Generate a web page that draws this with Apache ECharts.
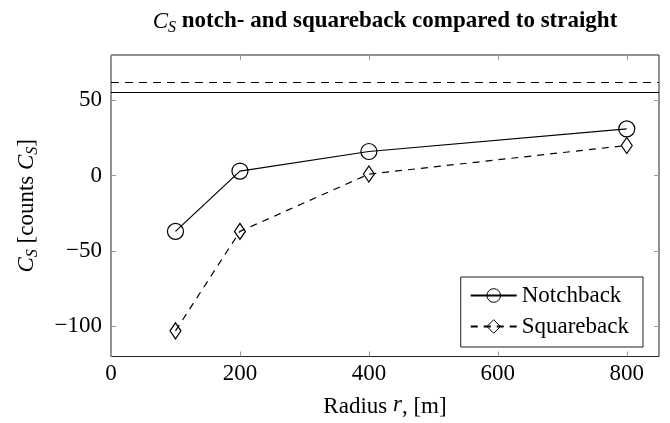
<!DOCTYPE html>
<html>
<head>
<meta charset="utf-8">
<script src="https://cdn.jsdelivr.net/npm/echarts@6/dist/echarts.min.js"></script>
<style>html,body{margin:0;padding:0;background:#fff}#c{width:670px;height:423px}</style>
</head>
<body>
<div id="c"></div>
<script>
const radius = [100, 200, 400, 800];
const notchback = [-37, 3, 16, 31];
const squareback = [-103, -37, 1, 20];
const straightNotch = 55;
const straightSquare = 62;
const xTicks = [0, 200, 400, 600, 800];
const yTicks = [-100, -50, 0, 50];

const FONT = 'Liberation Serif';
const FS = 23;
const rich = {
  i: { fontStyle: 'italic', fontFamily: FONT, fontSize: FS, lineHeight: 26, verticalAlign: 'top' },
  s: { fontStyle: 'italic', fontFamily: FONT, fontSize: 16, lineHeight: 17, padding: [11, 0, 0, 0], verticalAlign: 'bottom' },
  n: { fontFamily: FONT, fontSize: FS, lineHeight: 26, verticalAlign: 'top' }
};
const titleRich = {
  i: { fontStyle: 'italic', fontWeight: 'normal', fontFamily: FONT, fontSize: FS, lineHeight: 26, verticalAlign: 'top' },
  s: { fontStyle: 'italic', fontWeight: 'normal', fontFamily: FONT, fontSize: 16, lineHeight: 17, padding: [11, 0, 0, 0], verticalAlign: 'bottom' },
  b: { fontWeight: 'bold', fontFamily: FONT, fontSize: FS, lineHeight: 26, verticalAlign: 'top' }
};
const minus = v => String(v).replace('-', '\u2212');
const tickCol = '#999';
const hiddenLine = { show: false, onZero: false };

const chart = echarts.init(document.getElementById('c'), null, { renderer: 'canvas' });
chart.setOption({
  animation: false,
  backgroundColor: '#fff',
  title: {
    text: '{i|C}{s|S}{b| notch- and squareback compared to straight}',
    left: 385, top: 10, textAlign: 'center', padding: 0,
    textStyle: { rich: titleRich, fontFamily: FONT, fontWeight: 'bold', fontSize: FS, color: '#000' }
  },
  grid: { left: 111, right: 11, top: 55, bottom: 66, show: true, borderColor: '#222', borderWidth: 1, containLabel: false },
  legend: {
    orient: 'vertical', right: 27, bottom: 76,
    backgroundColor: '#fff', borderColor: '#222', borderWidth: 1,
    padding: [7, 14, 9, 9], itemGap: 8, itemWidth: 46, itemHeight: 17,
    itemStyle: { borderWidth: 1 },
    textStyle: { fontFamily: FONT, fontSize: FS, color: '#000' },
    data: ['Notchback', 'Squareback']
  },
  xAxis: [{
    type: 'value', min: 0, max: 850,
    name: 'Radius {i|r}, [m]', nameLocation: 'middle', nameGap: 37,
    nameTextStyle: { rich: rich, fontFamily: FONT, fontSize: FS, color: '#000' },
    axisLine: hiddenLine,
    axisTick: { inside: true, length: 5, customValues: xTicks, lineStyle: { color: tickCol } },
    axisLabel: { customValues: xTicks, fontFamily: FONT, fontSize: FS, color: '#000', margin: 6, formatter: minus },
    splitLine: { show: false }
  }, {
    type: 'value', min: 0, max: 850, position: 'top',
    axisLine: hiddenLine,
    axisTick: { inside: true, length: 5, customValues: xTicks, lineStyle: { color: tickCol } },
    axisLabel: { show: false }, splitLine: { show: false }
  }],
  yAxis: [{
    type: 'value', min: -120, max: 80,
    name: '{i|C}{s|S}{n| [counts }{i|C}{s|S}{n|]}', nameLocation: 'middle', nameGap: 70, nameRotate: 90,
    nameTextStyle: { rich: rich, fontFamily: FONT, fontSize: FS, color: '#000' },
    axisLine: hiddenLine,
    axisTick: { inside: true, length: 5, customValues: yTicks, lineStyle: { color: tickCol } },
    axisLabel: { customValues: yTicks, fontFamily: FONT, fontSize: FS, color: '#000', margin: 9, formatter: minus },
    splitLine: { show: false }
  }, {
    type: 'value', min: -120, max: 80, position: 'right',
    axisLine: hiddenLine,
    axisTick: { inside: true, length: 5, customValues: yTicks, lineStyle: { color: tickCol } },
    axisLabel: { show: false }, splitLine: { show: false }
  }],
  series: [{
    name: 'Notchback', type: 'line',
    data: radius.map((r, k) => [r, notchback[k]]),
    symbol: 'circle', symbolSize: 16,
    lineStyle: { color: '#000', width: 1.2 },
    itemStyle: { color: 'rgba(0,0,0,0)', borderColor: '#000', borderWidth: 1.2 },
    markLine: {
      silent: true, symbol: 'none', label: { show: false },
      lineStyle: { color: '#000', width: 1.2, type: 'solid' },
      data: [{ yAxis: straightNotch }]
    }
  }, {
    name: 'Squareback', type: 'line',
    data: radius.map((r, k) => [r, squareback[k]]),
    symbol: 'diamond', symbolSize: [11, 16],
    lineStyle: { color: '#000', width: 1.2, type: [7, 6] },
    itemStyle: { color: 'rgba(0,0,0,0)', borderColor: '#000', borderWidth: 1.2 },
    markLine: {
      silent: true, symbol: 'none', label: { show: false },
      lineStyle: { color: '#000', width: 1.2, type: [8, 6] },
      data: [{ yAxis: straightSquare }]
    }
  }]
});
</script>
</body>
</html>
